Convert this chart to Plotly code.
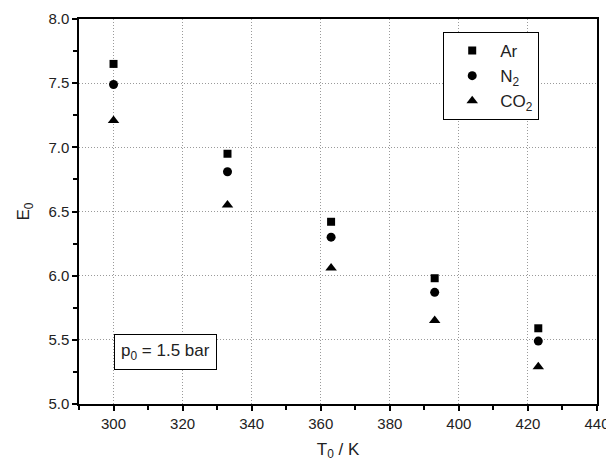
import plotly.graph_objects as go

T0 = [300, 333, 363, 393, 423]
E_Ar = [7.65, 6.95, 6.42, 5.98, 5.59]
E_N2 = [7.49, 6.81, 6.30, 5.87, 5.49]
E_CO2 = [7.21, 6.55, 6.06, 5.65, 5.29]

series = [
    ("Ar", E_Ar, "square", 8),
    ("N<sub>2</sub>", E_N2, "circle", 9),
    ("CO<sub>2</sub>", E_CO2, "triangle-up", 10),
]

font = "Liberation Sans, Arial, sans-serif"
fig = go.Figure()
for name, ys, sym, sz in series:
    fig.add_trace(go.Scatter(x=T0, y=ys, mode="markers", name=name,
                             marker=dict(symbol=sym, size=sz, color="black")))

axis_common = dict(
    showline=True, linecolor="black", linewidth=1.5, mirror=True,
    ticks="outside", ticklen=5, tickwidth=1.5, tickcolor="black",
    showgrid=True, gridcolor="#9a9a9a", griddash="1px,2px", gridwidth=1,
    zeroline=False, tickfont=dict(family=font, size=15, color="#222"),
    automargin=False, ticklabeloverflow="allow",
)
fig.update_xaxes(range=[290, 440], dtick=20, tick0=300,
                 minor=dict(dtick=10, ticks="outside", ticklen=4, tickwidth=1.5, tickcolor="black", showgrid=False),
                 title=dict(text="T<sub>0</sub> / K", font=dict(family=font, size=17, color="#222"), standoff=12),
                 **axis_common)
fig.update_yaxes(range=[5.0, 8.0], dtick=0.5, tickformat=".1f",
                 minor=dict(dtick=0.25, ticks="outside", ticklen=4, tickwidth=1.5, tickcolor="black", showgrid=False),
                 title=dict(text="E<sub>0</sub>", font=dict(family=font, size=17, color="#222"), standoff=14),
                 **axis_common)

fig.add_annotation(xref="paper", yref="paper", x=(114 - 79) / 517.7, y=(404.3 - 352) / 385.6,
                   xanchor="left", yanchor="middle", showarrow=False,
                   text="p<sub>0</sub> = 1.5 bar", font=dict(family=font, size=17, color="#222"),
                   bordercolor="black", borderwidth=1, borderpad=6, bgcolor="white")

fig.update_layout(
    width=606, height=463,
    margin=dict(l=79, r=9, t=19, b=59),
    plot_bgcolor="white", paper_bgcolor="white",
    font=dict(family=font, size=17, color="#222"),
    legend=dict(x=(443 - 79) / 517.7, y=(404.3 - 31.7) / 385.6, xanchor="left", yanchor="top",
                bordercolor="black", borderwidth=1, bgcolor="white",
                font=dict(family=font, size=17, color="#222"), itemwidth=46,
                tracegroupgap=0),
    showlegend=True,
)
fig.write_html("out.html")
